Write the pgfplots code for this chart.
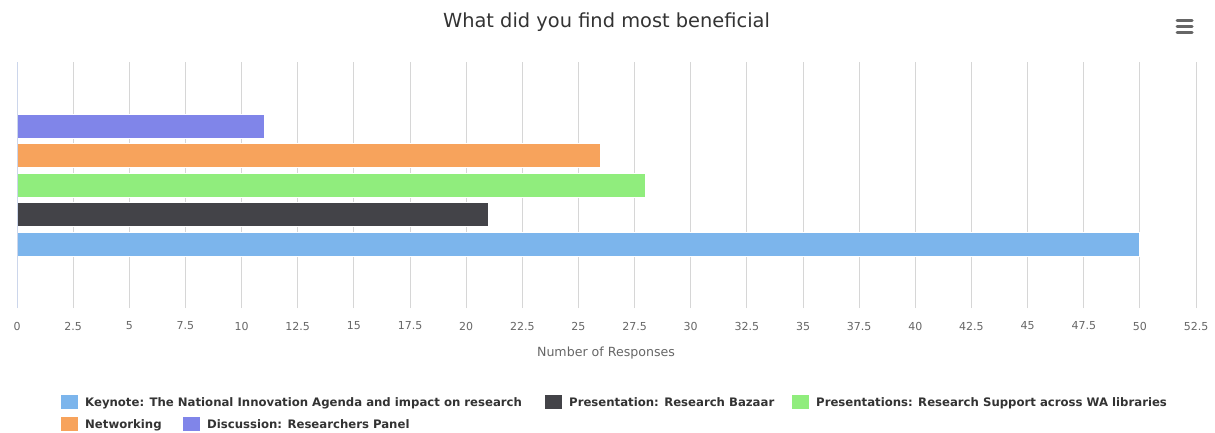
\documentclass[border=0pt]{standalone}
\usepackage{pgfplots}
\pgfplotsset{compat=1.18}
\usepackage{fontspec}
\setmainfont{DejaVu Sans}
\definecolor{s1}{HTML}{7CB5EC}
\definecolor{s2}{HTML}{434348}
\definecolor{s3}{HTML}{90ED7D}
\definecolor{s4}{HTML}{F7A35C}
\definecolor{s5}{HTML}{8085E9}
\definecolor{tick}{HTML}{666666}
\definecolor{ttl}{HTML}{333333}
\definecolor{grid}{HTML}{D6D6D6}
\definecolor{axl}{HTML}{CCD6EB}
\begin{document}
\begin{tikzpicture}[x=1pt,y=1pt]
\useasboundingbox (0,0) rectangle (1215,432);
\begin{axis}[
  at={(17pt,124pt)}, anchor=south west,
  width=1179pt, height=246pt, scale only axis,
  xmin=0, xmax=52.5, ymin=0, ymax=246,
  xtick={0,2.5,5,7.5,10,12.5,15,17.5,20,22.5,25,27.5,30,32.5,35,37.5,40,42.5,45,47.5,50,52.5},
  ytick=\empty,
  major tick length=0pt,
  axis line style={draw=none},
  xmajorgrids, major grid style={color=grid, line width=1pt},
  xticklabel style={font=\fontsize{11}{13}\selectfont, text=tick, anchor=center, yshift=-18pt},
  /pgf/number format/assume math mode=true,
  clip=false,
  xbar, bar shift=0pt, bar width=24pt,
  every axis plot/.append style={draw=white, line width=1pt},
]
\addplot[fill=s1] coordinates {(50,64)};
\addplot[fill=s2] coordinates {(21,93.5)};
\addplot[fill=s3] coordinates {(28,123)};
\addplot[fill=s4] coordinates {(26,152.5)};
\addplot[fill=s5] coordinates {(11,182)};
\draw[axl, line width=1pt] (rel axis cs:0,0) -- (rel axis cs:0,1);
\end{axis}
% title
\node[text=ttl, font=\fontsize{19.4}{22}\selectfont] at (606.5,410) {What did you find most beneficial};
% axis title
\node[text=tick, font=\fontsize{12.6}{14}\selectfont] at (606,79) {Number of Responses};
% menu icon
\foreach \yy in {411,405,399} \draw[tick, line width=3pt, line cap=round] (1177,\yy) -- (1192,\yy);
% legend
\tikzset{lt/.style={text=ttl, font=\bfseries\fontsize{11.7}{14}\selectfont, anchor=base west, inner sep=0pt}}
\fill[s1] (61,23) rectangle (78,37); \node[lt] at (85,26) {Keynote: The National Innovation Agenda and impact on research};
\fill[s2] (545,23) rectangle (562,37); \node[lt] at (569,26) {Presentation: Research Bazaar};
\fill[s3] (792,23) rectangle (809,37); \node[lt] at (816,26) {Presentations: Research Support across WA libraries};
\fill[s4] (61,1) rectangle (78,15); \node[lt] at (85,4) {Networking};
\fill[s5] (183,1) rectangle (200,15); \node[lt] at (207,4) {Discussion: Researchers Panel};
\end{tikzpicture}
\end{document}
